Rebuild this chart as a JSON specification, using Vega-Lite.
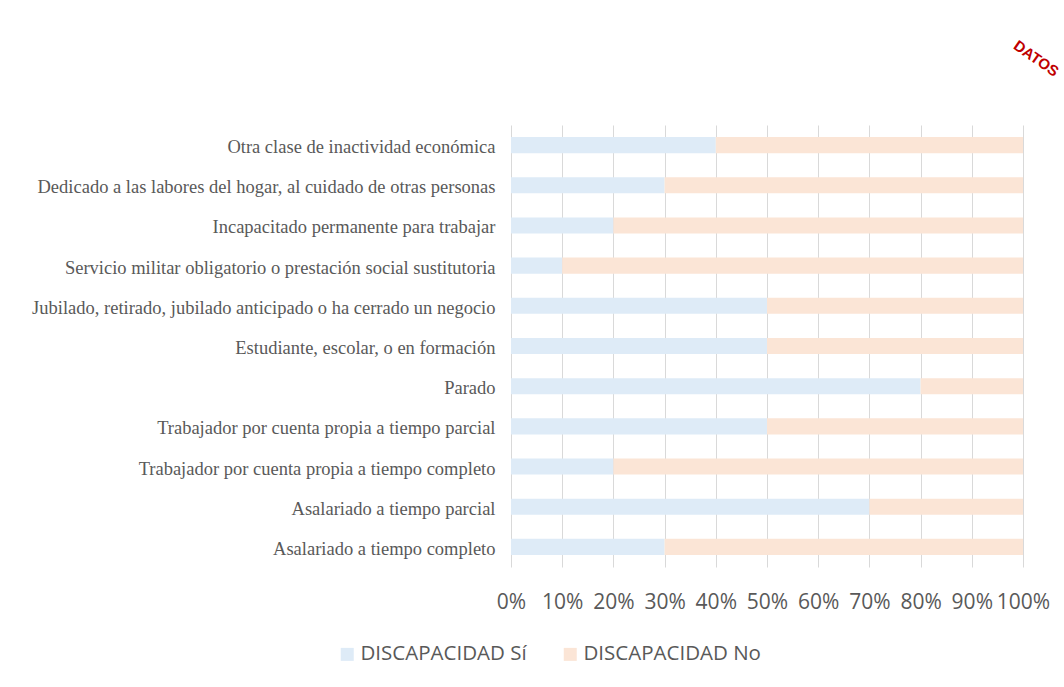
{
  "$schema": "https://vega.github.io/schema/vega-lite/v6.json",
  "width": 512,
  "height": 442,
  "autosize": {"type": "none"},
  "padding": {"left": 511, "top": 125, "right": 41, "bottom": 120},
  "background": "white",
  "title": {
    "text": "DATOS",
    "anchor": "end",
    "orient": "top",
    "angle": 35,
    "color": "#c00000",
    "font": "Liberation Sans",
    "fontSize": 15,
    "fontWeight": "bold",
    "offset": 24,
    "dx": 14
  },
  "data": {
    "values": [
      {"categoria": "Otra clase de inactividad económica", "serie": "DISCAPACIDAD Sí", "orden": 1, "valor": 40},
      {"categoria": "Otra clase de inactividad económica", "serie": "DISCAPACIDAD No", "orden": 2, "valor": 60},
      {"categoria": "Dedicado a las labores del hogar, al cuidado de otras personas", "serie": "DISCAPACIDAD Sí", "orden": 1, "valor": 30},
      {"categoria": "Dedicado a las labores del hogar, al cuidado de otras personas", "serie": "DISCAPACIDAD No", "orden": 2, "valor": 70},
      {"categoria": "Incapacitado permanente para trabajar", "serie": "DISCAPACIDAD Sí", "orden": 1, "valor": 20},
      {"categoria": "Incapacitado permanente para trabajar", "serie": "DISCAPACIDAD No", "orden": 2, "valor": 80},
      {"categoria": "Servicio militar obligatorio o prestación social sustitutoria", "serie": "DISCAPACIDAD Sí", "orden": 1, "valor": 10},
      {"categoria": "Servicio militar obligatorio o prestación social sustitutoria", "serie": "DISCAPACIDAD No", "orden": 2, "valor": 90},
      {"categoria": "Jubilado, retirado, jubilado anticipado o ha cerrado un negocio", "serie": "DISCAPACIDAD Sí", "orden": 1, "valor": 50},
      {"categoria": "Jubilado, retirado, jubilado anticipado o ha cerrado un negocio", "serie": "DISCAPACIDAD No", "orden": 2, "valor": 50},
      {"categoria": "Estudiante, escolar, o en formación", "serie": "DISCAPACIDAD Sí", "orden": 1, "valor": 50},
      {"categoria": "Estudiante, escolar, o en formación", "serie": "DISCAPACIDAD No", "orden": 2, "valor": 50},
      {"categoria": "Parado", "serie": "DISCAPACIDAD Sí", "orden": 1, "valor": 80},
      {"categoria": "Parado", "serie": "DISCAPACIDAD No", "orden": 2, "valor": 20},
      {"categoria": "Trabajador por cuenta propia a tiempo parcial", "serie": "DISCAPACIDAD Sí", "orden": 1, "valor": 50},
      {"categoria": "Trabajador por cuenta propia a tiempo parcial", "serie": "DISCAPACIDAD No", "orden": 2, "valor": 50},
      {"categoria": "Trabajador por cuenta propia a tiempo completo ", "serie": "DISCAPACIDAD Sí", "orden": 1, "valor": 20},
      {"categoria": "Trabajador por cuenta propia a tiempo completo ", "serie": "DISCAPACIDAD No", "orden": 2, "valor": 80},
      {"categoria": "Asalariado a tiempo parcial", "serie": "DISCAPACIDAD Sí", "orden": 1, "valor": 70},
      {"categoria": "Asalariado a tiempo parcial", "serie": "DISCAPACIDAD No", "orden": 2, "valor": 30},
      {"categoria": "Asalariado a tiempo completo", "serie": "DISCAPACIDAD Sí", "orden": 1, "valor": 30},
      {"categoria": "Asalariado a tiempo completo", "serie": "DISCAPACIDAD No", "orden": 2, "valor": 70}
    ]
  },
  "mark": {"type": "bar"},
  "encoding": {
    "y": {
      "field": "categoria",
      "type": "nominal",
      "sort": null,
      "scale": {"paddingInner": 0.6, "paddingOuter": 0.3},
      "axis": {
        "title": null,
        "ticks": false,
        "domain": false,
        "labelFont": "Liberation Serif",
        "labelFontSize": 18.5,
        "labelColor": "#595959",
        "labelPadding": 16,
        "labelOffset": 2,
        "labelLimit": 600
      }
    },
    "x": {
      "field": "valor",
      "type": "quantitative",
      "stack": "normalize",
      "scale": {"domain": [0, 1], "nice": false},
      "axis": {
        "title": null,
        "values": [0, 0.1, 0.2, 0.3, 0.4, 0.5, 0.6, 0.7, 0.8, 0.9, 1],
        "format": ".0%",
        "ticks": false,
        "domain": false,
        "grid": true,
        "gridColor": "#d9d9d9",
        "gridWidth": 1,
        "labelFont": "Open Sans",
        "labelFontSize": 21,
        "labelColor": "#595959",
        "labelPadding": 24,
        "labelFlush": false,
        "labelOverlap": false
      }
    },
    "color": {
      "field": "serie",
      "type": "nominal",
      "sort": ["DISCAPACIDAD Sí", "DISCAPACIDAD No"],
      "scale": {"domain": ["DISCAPACIDAD Sí", "DISCAPACIDAD No"], "range": ["#deebf7", "#fbe5d6"]},
      "legend": {
        "title": null,
        "orient": "none",
        "direction": "horizontal",
        "legendX": -174,
        "legendY": 519,
        "symbolType": "square",
        "symbolSize": 169,
        "symbolStrokeWidth": 0,
        "labelFont": "Open Sans",
        "labelFontSize": 20.5,
        "labelColor": "#595959",
        "labelOffset": 3,
        "labelLimit": 400,
        "columnPadding": 33
      }
    },
    "order": {"field": "orden", "type": "quantitative"}
  },
  "config": {
    "view": {"stroke": null}
  }
}
